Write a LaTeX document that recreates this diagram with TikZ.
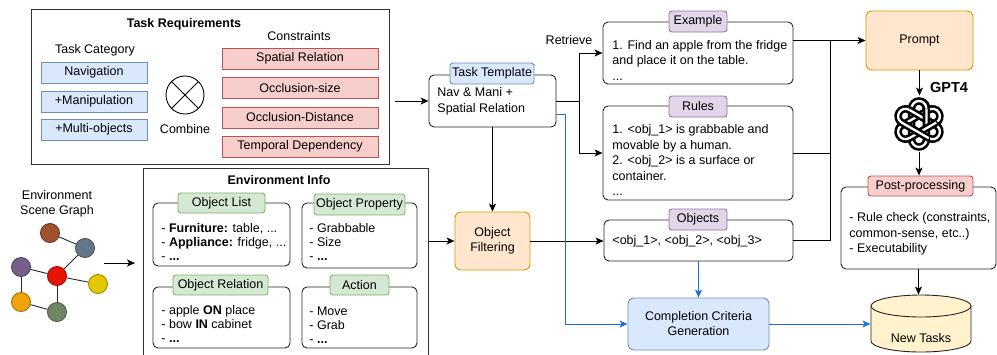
\documentclass[tikz,border=0pt]{standalone}
\usepackage{fontspec}
\setmainfont{Liberation Sans}
\usetikzlibrary{arrows.meta,calc}
\definecolor{bfill}{HTML}{DAE8FC}\definecolor{bline}{HTML}{6C8EBF}
\definecolor{rfill}{HTML}{F8CECC}\definecolor{rline}{HTML}{B85450}
\definecolor{gfill}{HTML}{D5E8D4}\definecolor{gline}{HTML}{82B366}
\definecolor{pfill}{HTML}{E1D5E7}\definecolor{pline}{HTML}{9673A6}
\definecolor{ofill}{HTML}{FFE6CC}\definecolor{oline}{HTML}{D79B00}
\definecolor{yfill}{HTML}{FFF2CC}
\definecolor{arrblue}{HTML}{1E6FD9}
\definecolor{cbrown}{HTML}{A0522D}\definecolor{cslate}{HTML}{647687}
\definecolor{cmauve}{HTML}{76608A}\definecolor{cred}{HTML}{E51400}
\definecolor{cyellow}{HTML}{E3C800}\definecolor{camber}{HTML}{F0A30A}
\definecolor{colive}{HTML}{6D8764}
\begin{document}
\begin{tikzpicture}[x=1pt,y=-1pt,line width=0.9pt,
  font=\fontsize{12.5}{15}\selectfont,
  frame/.style={draw=black!80,inner sep=0pt},
  wbox/.style={draw=black!85,rounded corners=5pt,fill=white,inner sep=0pt},
  lab/.style={draw,rounded corners=3pt,inner sep=0pt,minimum height=21pt},
  blab/.style={lab,fill=bfill,draw=bline},
  rlab/.style={lab,fill=rfill,draw=rline},
  glab/.style={lab,fill=gfill,draw=gline},
  plab/.style={lab,fill=pfill,draw=pline},
  bluebox/.style={draw=bline,fill=bfill,inner sep=0pt,minimum width=106pt,minimum height=21pt},
  redbox/.style={draw=rline,fill=rfill,inner sep=0pt,minimum width=156pt,minimum height=21pt},
  ttl/.style={font=\fontsize{12.5}{15}\selectfont\bfseries},
  txt/.style={align=left,inner sep=0pt,anchor=west,font=\fontsize{12.5}{15.5}\selectfont},
  etxt/.style={align=left,inner sep=0pt,anchor=west,font=\fontsize{12.5}{14}\selectfont},
  arr/.style={-{Stealth[length=8pt,width=7pt,inset=2pt]}},
  barr/.style={arr,draw=arrblue},
  gnode/.style={circle,minimum size=19pt,inner sep=0pt,draw=#1!70!black,fill=#1},
  gedge/.style={draw=black!85,line width=0.9pt},
  petal/.style={line width=2.6pt,double=white,double distance=2.3pt}]
\useasboundingbox (0,0) rectangle (997,354);

% ---------- Task Requirements
\node[frame,minimum width=358pt,minimum height=155pt] (taskreq) at (210,86.5) {};
\node[ttl] (trtitle) at (184,24) {Task Requirements};
\node (tcat) at (95,50) {Task Category};
\node[bluebox] (nav) at (94,72.5) {Navigation};
\node[bluebox] (mani) at (94,101.5) {+Manipulation};
\node[bluebox] (multi) at (94,129.5) {+Multi-objects};
\node[circle,draw,minimum size=38pt,inner sep=0pt] (comb) at (185,95) {};
\draw (comb.45) -- (comb.225);
\draw (comb.135) -- (comb.315);
\node (combtxt) at (185,129) {Combine};
\node (cons) at (299,36) {Constraints};
\node[redbox] (spat) at (300,58.5) {Spatial Relation};
\node[redbox] (occs) at (300,88) {Occlusion-size};
\node[redbox] (occd) at (300,117.5) {Occlusion-Distance};
\node[redbox] (temp) at (300,146.5) {Temporal Dependency};

% ---------- Environment Info
\node[frame,minimum width=285pt,minimum height=200pt,anchor=north west] (envinfo) at (143,168) {};
\node[ttl] (eititle) at (279,180) {Environment Info};
\node[wbox,minimum width=137pt,minimum height=63pt] (olist) at (221.5,234.5) {};
\node[glab,minimum width=87pt,minimum height=20pt] (olistl) at (221.5,203) {Object List};
\node[etxt] (olistt) at (161,241.5) {- \textbf{Furniture:} table, ...\\- \textbf{Appliance:} fridge, ...\\- \textbf{...}};
\node[wbox,minimum width=115pt,minimum height=65pt] (oprop) at (359.5,235.5) {};
\node[glab,minimum width=91pt,minimum height=21pt] (opropl) at (359.5,204.5) {Object Property};
\node[etxt] (opropt) at (309,242) {- Grabbable\\- Size\\- \textbf{...}};
\node[wbox,minimum width=137pt,minimum height=61pt] (orel) at (221.5,317.5) {};
\node[glab,minimum width=95pt,minimum height=20pt] (orell) at (220.5,285) {Object Relation};
\node[etxt] (orelt) at (161,323.5) {- apple \textbf{ON} place\\- bow \textbf{IN} cabinet\\- \textbf{...}};
\node[wbox,minimum width=115pt,minimum height=61pt] (act) at (359.5,317.5) {};
\node[glab,minimum width=59pt,minimum height=20pt] (actl) at (359.5,285) {Action};
\node[etxt] (actt) at (309,325) {- Move\\- Grab\\- \textbf{...}};

% ---------- Scene graph
\node[align=center,inner sep=0pt] (sgtxt) at (57,203.5) {Environment\\Scene Graph};
\node[gnode=cbrown] (g1) at (50,233) {};
\node[gnode=cslate] (g2) at (85,248) {};
\node[gnode=cmauve] (g3) at (21,267) {};
\node[gnode=cred] (g4) at (57,276) {};
\node[gnode=cyellow] (g5) at (98,284) {};
\node[gnode=camber] (g6) at (21,302) {};
\node[gnode=colive] (g7) at (57,312) {};
\draw[gedge] (g1) -- (g2);
\draw[gedge] (g2) -- (g4);
\draw[gedge] (g3) -- (g4);
\draw[gedge] (g4) -- (g5);
\draw[gedge] (g3) -- (g6);
\draw[gedge] (g6) -- (g7);
\draw[gedge] (g4) -- (g7);
\coordinate (gout) at (104,263);
\draw[arr,shorten >=8pt] (gout) -- (envinfo.west |- gout);

% ---------- Task template
\node[wbox,minimum width=127pt,minimum height=52pt] (tt) at (492.5,101) {};
\node[blab,minimum width=84pt] (ttl) at (492,73.5) {Task Template};
\node[txt] (ttt) at (437,101.5) {Nav \& Mani +\\Spatial Relation};
\draw[arr,shorten <=6pt] (taskreq.east |- tt.west) -- (tt.west);

% ---------- Example / Rules / Objects
\node[wbox,minimum width=190pt,minimum height=62pt] (ex) at (698,53) {};
\node[plab,minimum width=58pt] (exl) at (698,21.5) {Example};
\node[txt] (ext) at (612,60) {1. Find an apple from the fridge\\and place it on the table.\\...};
\node[wbox,minimum width=190pt,minimum height=94pt] (rules) at (698,153) {};
\node[plab,minimum width=58pt] (rulesl) at (698,106.5) {Rules};
\node[txt] (rulest) at (612,160) {1. <obj\_1> is grabbable and\\movable by a human.\\2. <obj\_2> is a surface or\\container.\\...};
\node[wbox,minimum width=189pt,minimum height=41pt] (objs) at (698.5,240.5) {};
\node[plab,minimum width=58pt] (objsl) at (698,219.5) {Objects};
\node[txt] (objst) at (612,241) {<obj\_1>, <obj\_2>, <obj\_3>};
\node (retr) at (569,40) {Retrieve};
\coordinate (split) at (579,101);
\draw (tt.east) -- (split);
\draw[arr] (split) |- (ex.west);
\draw[arr] (split) |- (rules.west);

% ---------- Object Filtering / Completion
\node[draw=oline,fill=ofill,rounded corners=6pt,minimum width=75pt,minimum height=58pt,align=center,inner sep=0pt] (of) at (492.5,241) {Object\\Filtering};
\node[draw=bline,fill=bfill,rounded corners=6pt,minimum width=141pt,minimum height=52pt,align=center,inner sep=0pt] (cc) at (698.5,324) {Completion Criteria\\Generation};
\draw[arr] (tt.south -| of.north) -- (of.north);
\draw[arr] (envinfo.east |- of.west) -- (of.west);
\draw[arr] (of.east) -- (objs.west |- of.east);
\draw[barr] ($(tt.east)+(0,13)$) -- ++(9,0) |- (cc.west);
\draw[barr] (objs.south) -- (cc.north -| objs.south);

% ---------- Prompt / GPT4 / Post-processing / New tasks
\node[draw=oline,fill=ofill,rounded corners=6pt,minimum width=107pt,minimum height=59pt,inner sep=0pt] (prompt) at (919.5,40.5) {Prompt};
\coordinate (jx) at (830,0);
\draw[arr] (ex.east |- prompt.west) -- (prompt.west);
\draw (rules.east) -- (jx |- rules.east);
\draw (objs.east) -- (jx |- objs.east) -- (jx |- prompt.west);

\node[minimum size=56pt,inner sep=0pt] (logo) at (919,124) {};
\begin{scope}[shift={(logo.center)},yscale=-1]
  \foreach \a in {0,60,...,300}
    \draw[petal,rotate=\a]
      (7.4,15.6) arc[start angle=0,end angle=180,radius=7.4] -- (-7.4,-15.6);
  \draw[petal] (7.4,15.6) arc[start angle=0,end angle=60,radius=7.4];
\end{scope}
\node[font=\fontsize{14.5}{16}\selectfont\bfseries] (gpt) at (949,88) {GPT4};
\draw[arr] (prompt.south) -- (logo.north -| prompt.south);

\node[wbox,minimum width=155pt,minimum height=82pt] (pp) at (918.5,228) {};
\node[rlab,minimum width=105pt,minimum height=20pt] (ppl) at (920.5,186) {Post-processing};
\node[txt] (ppt) at (849,234) {- Rule check (constraints,\\common-sense, etc..)\\- Executability};
\draw[arr] (logo.south) -- (ppl.north -| logo.south);

\node[minimum width=100pt,minimum height=58pt,inner sep=0pt] (nt) at (921,324) {};
\draw[fill=yfill,draw=black!85] (871,306) -- (871,341) arc[start angle=180,end angle=0,x radius=50,y radius=11] -- (971,306) arc[start angle=0,end angle=-180,x radius=50,y radius=11] -- cycle;
\draw[draw=black!85] (871,306) arc[start angle=180,end angle=0,x radius=50,y radius=11];
\node (ntt) at (921,338) {New Tasks};
\draw[arr] (pp.south) -- (pp.south |- nt.north);
\draw[barr] (cc.east) -- (nt.west |- cc.east);
\end{tikzpicture}
\end{document}
